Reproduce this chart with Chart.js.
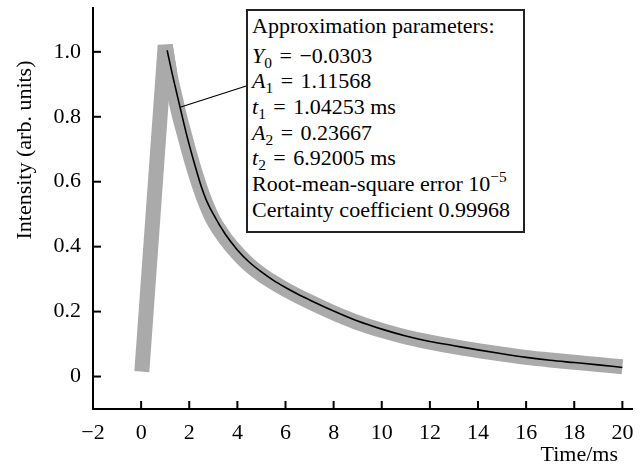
<!DOCTYPE html>
<html>
<head>
<meta charset="utf-8">
<script src="https://cdn.jsdelivr.net/npm/chart.js@4.4.0/dist/chart.umd.min.js"></script>
<style>
  body { margin: 0; background: #fff; }
  #wrap { position: relative; width: 642px; height: 468px; }
  #box {
    position: absolute; left: 246px; top: 9px; width: 279px; height: 224px;
    box-sizing: border-box; border: 2px solid #222; background: #fff;
    font-family: "Liberation Serif", "DejaVu Serif", serif; font-size: 22px; color: #000;
    padding: 1.7px 0 0 4px;
  }
  #box div { line-height: 25.7px; height: 25.7px; white-space: nowrap; }
  #box div.head { margin-bottom: 4.3px; }
  #box i { font-style: italic; }
  #box .eq { padding: 0 2px; }
  #box sub { font-size: 0.7em; line-height: 0; vertical-align: -0.3em; }
  #box sup { font-size: 0.7em; line-height: 0; vertical-align: 0.6em; }
</style>
</head>
<body>
<div id="wrap">
  <canvas id="decay" width="642" height="468"></canvas>
  <div id="box">
    <div class="head">Approximation parameters:</div>
    <div><i>Y</i><sub>0</sub> <span class="eq">=</span> −0.0303</div>
    <div><i>A</i><sub>1</sub> <span class="eq">=</span> 1.11568</div>
    <div><i>t</i><sub>1</sub> <span class="eq">=</span> 1.04253 ms</div>
    <div><i>A</i><sub>2</sub> <span class="eq">=</span> 0.23667</div>
    <div><i>t</i><sub>2</sub> <span class="eq">=</span> 6.92005 ms</div>
    <div>Root-mean-square error 10<sup>−5</sup></div>
    <div>Certainty coefficient 0.99968</div>
  </div>
</div>
<script>
// measured signal (grey band): rising edge over the peak, then the decay
const riseTime = [0.03, 1.0, 1.2];
const riseIntensity = [0.015, 1.02, 0.93];
const decayTime = [1.0, 1.2, 1.4, 1.6, 1.8, 2.0, 2.3, 2.6, 3.0, 3.5, 4.0, 4.5, 5.0, 5.5, 6.0,
    7.0, 8.0, 9.0, 10.0, 11.0, 12.0, 13.0, 14.0, 15.0, 16.0, 17.0, 18.0, 19.0, 20.0];
const decayIntensity = [1.02, 0.93, 0.865, 0.80, 0.745, 0.69, 0.615, 0.55, 0.482, 0.425, 0.38, 0.343, 0.314, 0.29, 0.268,
    0.23, 0.196, 0.166, 0.142, 0.122, 0.106, 0.092, 0.08, 0.069, 0.059, 0.051, 0.044, 0.037, 0.03];

// approximation curve (black)
const fitTime = [1.08, 1.3, 1.6, 1.9, 2.2, 2.5, 2.7, 3.0, 3.5, 4.0, 4.5, 5.0, 5.5, 6.0, 6.5, 7.0,
    8.0, 9.0, 10.0, 11.0, 12.0, 13.0, 14.0, 15.0, 16.0, 17.0, 18.0, 19.0, 20.0];
const fitIntensity = [1.005, 0.93, 0.835, 0.742, 0.66, 0.585, 0.545, 0.5, 0.438, 0.39, 0.352, 0.322, 0.296, 0.274, 0.254, 0.236,
    0.202, 0.171, 0.146, 0.125, 0.108, 0.095, 0.082, 0.07, 0.059, 0.05, 0.043, 0.036, 0.028];

const xTicks = [-2, 0, 2, 4, 6, 8, 10, 12, 14, 16, 18, 20];
const xTickLabels = ['−2', '0', '2', '4', '6', '8', '10', '12', '14', '16', '18', '20'];
const yTicks = [0, 0.2, 0.4, 0.6, 0.8, 1.0];
const yTickLabels = ['0', '0.2', '0.4', '0.6', '0.8', '1.0'];

// point of the fit curve the box callout points at
const leaderTime = 1.65;
const leaderValue = 0.83;

const serif = '"Liberation Serif", "DejaVu Serif", serif';
const grey = '#aaaaaa';

const toPoints = (xs, ys) => xs.map((x, i) => ({ x: x, y: ys[i] }));

const decorations = {
    id: 'decorations',
    afterDraw(chart) {
        const { ctx, chartArea, scales: { x, y } } = chart;
        ctx.save();
        ctx.strokeStyle = '#000';
        ctx.lineWidth = 2;
        // ticks pointing into the plot
        yTicks.forEach(v => {
            const py = y.getPixelForValue(v);
            ctx.beginPath();
            ctx.moveTo(chartArea.left, py);
            ctx.lineTo(chartArea.left + 8, py);
            ctx.stroke();
        });
        xTicks.forEach(v => {
            const px = x.getPixelForValue(v);
            ctx.beginPath();
            ctx.moveTo(px, chartArea.bottom);
            ctx.lineTo(px, chartArea.bottom - 8);
            ctx.stroke();
        });
        // callout line to the box
        ctx.lineWidth = 1.2;
        ctx.beginPath();
        ctx.moveTo(247, 85.7);
        ctx.lineTo(x.getPixelForValue(leaderTime), y.getPixelForValue(leaderValue));
        ctx.stroke();
        // axis titles
        ctx.fillStyle = '#000';
        ctx.font = '22px ' + serif;
        ctx.textBaseline = 'middle';
        ctx.textAlign = 'center';
        ctx.translate(25, 150);
        ctx.rotate(-Math.PI / 2);
        ctx.fillText('Intensity (arb. units)', 0, 0);
        ctx.restore();
        ctx.save();
        ctx.fillStyle = '#000';
        ctx.font = '22px ' + serif;
        ctx.textAlign = 'right';
        ctx.textBaseline = 'alphabetic';
        ctx.fillText('Time/ms', 618, 461);
        ctx.restore();
    }
};

new Chart(document.getElementById('decay'), {
    type: 'line',
    data: {
        datasets: [{
            label: 'Approximation',
            data: toPoints(fitTime, fitIntensity),
            borderColor: '#000',
            borderWidth: 1.6,
            pointRadius: 0,
            cubicInterpolationMode: 'monotone',
            order: 0
        }, {
            label: 'Signal decay',
            data: toPoints(decayTime, decayIntensity),
            borderColor: grey,
            borderWidth: 15,
            borderCapStyle: 'butt',
            pointRadius: 0,
            cubicInterpolationMode: 'monotone',
            order: 1
        }, {
            label: 'Signal rise',
            data: toPoints(riseTime, riseIntensity),
            borderColor: grey,
            borderWidth: 15,
            borderCapStyle: 'butt',
            borderJoinStyle: 'bevel',
            pointRadius: 0,
            tension: 0,
            order: 2
        }]
    },
    options: {
        responsive: false,
        animation: false,
        devicePixelRatio: 1,
        layout: { padding: { left: 0, top: 8, right: 10, bottom: 0 } },
        plugins: {
            legend: { display: false },
            tooltip: { enabled: false }
        },
        scales: {
            x: {
                type: 'linear',
                min: -2,
                max: 20.4,
                afterBuildTicks: s => { s.ticks = xTicks.map(v => ({ value: v })); },
                afterFit: s => { s.height = 59; s.paddingLeft = 0; s.paddingRight = 0; },
                grid: { display: false, drawTicks: false },
                border: { display: true, color: '#000', width: 2 },
                ticks: {
                    color: '#000',
                    padding: 11,
                    maxRotation: 0,
                    autoSkip: false,
                    font: { family: serif, size: 22 },
                    callback: v => xTickLabels[xTicks.indexOf(v)]
                }
            },
            y: {
                min: -0.1,
                max: 1.135,
                afterBuildTicks: s => { s.ticks = yTicks.map(v => ({ value: v })); },
                afterFit: s => { s.width = 93; s.paddingTop = 0; s.paddingBottom = 0; },
                grid: { display: false, drawTicks: false },
                border: { display: true, color: '#000', width: 2 },
                ticks: {
                    color: '#000',
                    padding: 12,
                    autoSkip: false,
                    font: { family: serif, size: 22 },
                    callback: v => yTickLabels[yTicks.indexOf(v)]
                }
            }
        }
    },
    plugins: [decorations]
});
</script>
</body>
</html>
